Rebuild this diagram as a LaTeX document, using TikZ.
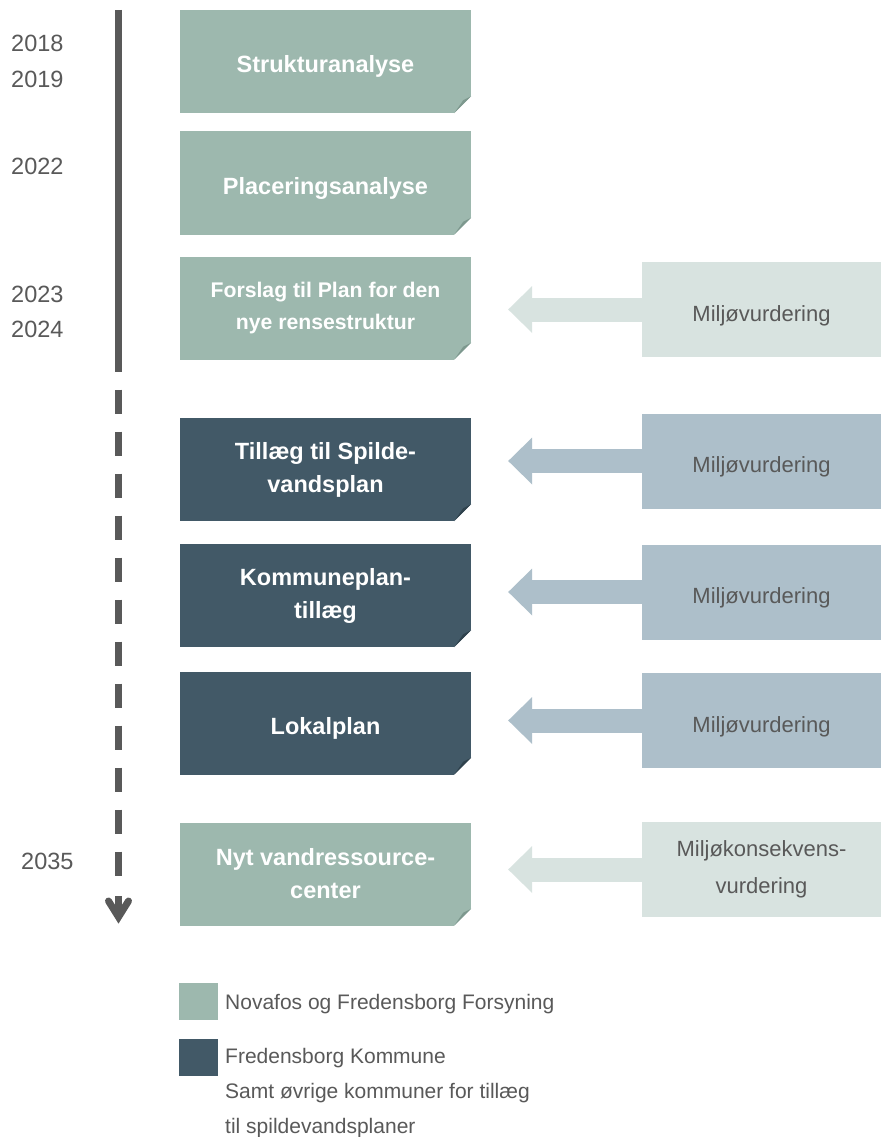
\documentclass[tikz,border=0pt]{standalone}
\usepackage{fontspec}
\setmainfont{Liberation Sans}
\usetikzlibrary{arrows.meta,calc}

\definecolor{groen}{HTML}{9DB8AE}
\definecolor{groenfold}{HTML}{7D988E}
\definecolor{moerk}{HTML}{425967}
\definecolor{moerkfold}{HTML}{2F424D}
\definecolor{lysgroen}{HTML}{D8E3E0}
\definecolor{lysblaa}{HTML}{ADBFCA}
\definecolor{graa}{HTML}{595959}

\tikzset{
  planbox/.style={rectangle, minimum width=291pt, minimum height=103pt, inner sep=0pt,
    text=white, align=center, font=\bfseries\fontsize{23.5}{33}\selectfont},
  forsyning/.style={planbox, fill=groen},
  kommune/.style={planbox, fill=moerk},
  vurdbox/.style={rectangle, minimum width=239pt, minimum height=95pt, inner sep=0pt,
    text=graa, align=center, font=\fontsize{22}{37}\selectfont},
  oneline/.style={text height=#1, text depth=0pt},
  vurdarrow/.style={line width=24pt, -{Triangle[length=24pt, width=47pt, line width=0pt]}},
  tlline/.style={graa, line width=7pt},
  yeartext/.style={text=graa, inner sep=0pt, anchor=base west, font=\fontsize{23.5}{28}\selectfont},
  legsq/.style={rectangle, minimum width=39pt, minimum height=37pt, inner sep=0pt},
  legtext/.style={text=graa, inner sep=0pt, anchor=base west, align=left, font=\fontsize{21}{35}\selectfont}
}

% folded corner at the bottom right of a box
\newcommand{\foldcorner}[2]{%
  \fill[white] ([xshift=-18pt,yshift=-1pt]#1.south east) -- ([xshift=1pt,yshift=-1pt]#1.south east) -- ([xshift=1pt,yshift=18pt]#1.south east) -- cycle;
  \fill[#2] ([xshift=-17pt]#1.south east) -- ([yshift=17pt]#1.south east) -- ([xshift=-8pt,yshift=13pt]#1.south east) -- cycle;}

\begin{document}
\begin{tikzpicture}[x=1pt, y=-1pt]
\fill[white] (0,0) rectangle (881,1137);
\useasboundingbox (0,0) rectangle (881,1137);

% Tidslinje
\coordinate (tltop) at (118.5,10);
\coordinate (tlmid) at (118.5,347.5);
\coordinate (tlend) at (118.5,876);
\draw[tlline] (tltop) -- (tlmid);
\draw[tlline, dash pattern=on 24pt off 18pt] (tlmid) -- (tlend);
\draw[tlline] (118.5,896) -- (118.5,917);
\draw[tlline, line cap=round, line join=miter] (108.5,901) -- (118.5,917) -- (128.5,901);

% Aarstal
\node[yeartext] (y2018) at (11,52) {2018};
\node[yeartext] (y2019) at (11,88) {2019};
\node[yeartext] (y2022) at (11,174) {2022};
\node[yeartext] (y2023) at (11,302) {2023};
\node[yeartext] (y2024) at (11,337) {2024};
\node[yeartext] (y2035) at (21,869) {2035};

% Planer
\node[forsyning, oneline=22pt] (b1) at (325.5,61.5) {Strukturanalyse};
\node[forsyning, oneline=22pt] (b2) at (325.5,183) {Placeringsanalyse};
\node[forsyning, font=\bfseries\fontsize{21.2}{32}\selectfont] (b3) at (325.5,308) {Forslag til Plan for den\\nye rensestruktur};
\node[kommune] (b4) at (325.5,469.5) {Tillæg til Spilde-\\vandsplan};
\node[kommune] (b5) at (325.5,595.5) {Kommuneplan-\\tillæg};
\node[kommune, oneline=22pt] (b6) at (325.5,723) {Lokalplan};
\node[forsyning] (b7) at (325.5,874) {Nyt vandressource-\\center};

\foldcorner{b1}{groenfold}
\foldcorner{b2}{groenfold}
\foldcorner{b3}{groenfold}
\foldcorner{b4}{moerkfold}
\foldcorner{b5}{moerkfold}
\foldcorner{b6}{moerkfold}
\foldcorner{b7}{groenfold}

% Miljoevurderinger
\node[vurdbox, oneline=23pt, fill=lysgroen] (r3) at (761.5,309.5) {Miljøvurdering};
\node[vurdbox, oneline=23pt, fill=lysblaa] (r4) at (761.5,461) {Miljøvurdering};
\node[vurdbox, oneline=23pt, fill=lysblaa] (r5) at (761.5,592) {Miljøvurdering};
\node[vurdbox, oneline=23pt, fill=lysblaa] (r6) at (761.5,720.5) {Miljøvurdering};
\node[vurdbox, fill=lysgroen] (r7) at (761.5,869.5) {Miljøkonsekvens-\\vurdering};

% Pile
\draw[vurdarrow, lysgroen] (r3.west) -- ($(r3.west -| b3.east)+(37,0)$);
\draw[vurdarrow, lysblaa] (r4.west) -- ($(r4.west -| b4.east)+(37,0)$);
\draw[vurdarrow, lysblaa] (r5.west) -- ($(r5.west -| b5.east)+(37,0)$);
\draw[vurdarrow, lysblaa] (r6.west) -- ($(r6.west -| b6.east)+(37,0)$);
\draw[vurdarrow, lysgroen] (r7.west) -- ($(r7.west -| b7.east)+(37,0)$);

% Signatur
\node[legsq, fill=groen] (leggroen) at (198.5,1001.5) {};
\node[legtext] (legtxt1) at (225,1009) {Novafos og Fredensborg Forsyning};
\node[legsq, fill=moerk] (legmoerk) at (198.5,1057.5) {};
\node[legtext] (legtxt2) at (225,1133) {Fredensborg Kommune\\Samt øvrige kommuner for tillæg\\til spildevandsplaner};

\end{tikzpicture}
\end{document}
